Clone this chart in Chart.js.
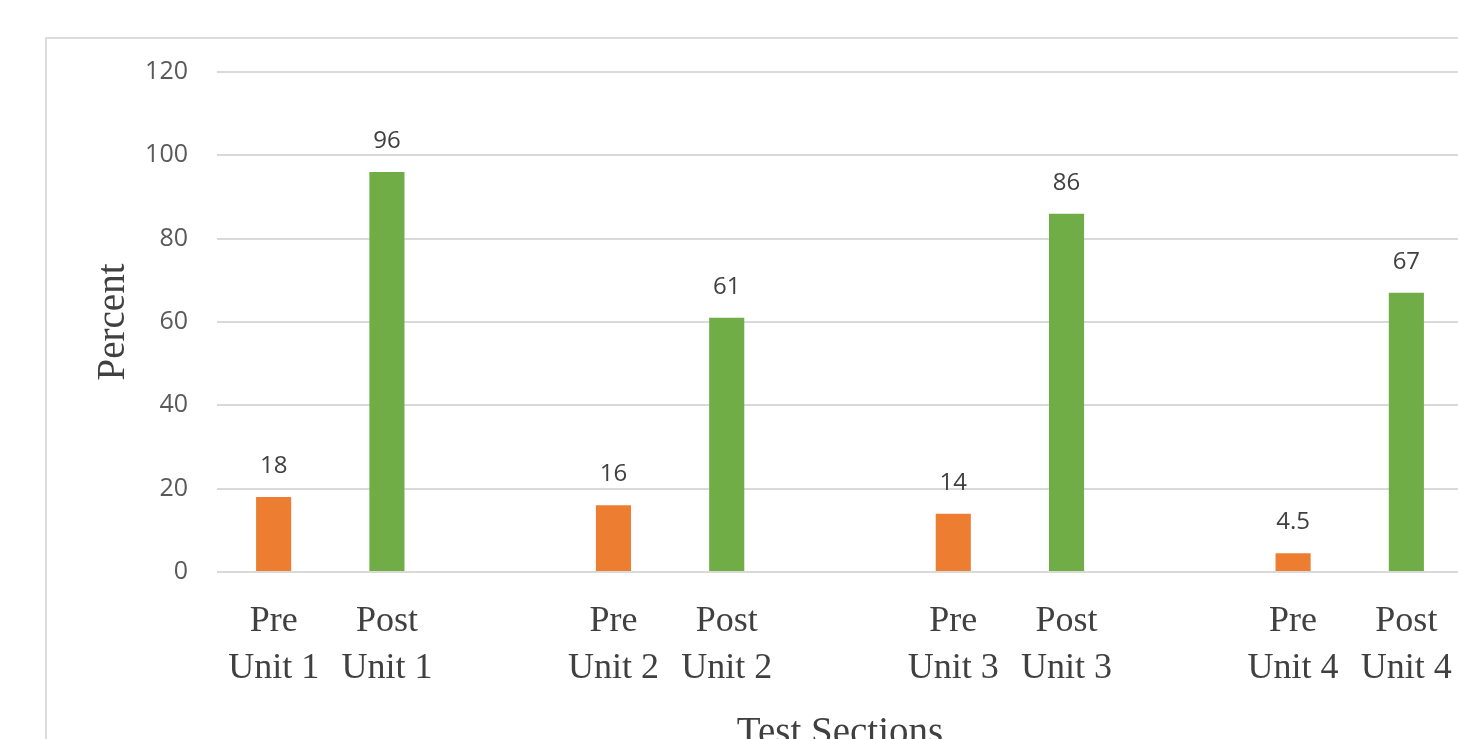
<!DOCTYPE html>
<html>
<head>
<meta charset="utf-8">
<script src="https://cdn.jsdelivr.net/npm/chart.js@4.4.0/dist/chart.umd.min.js"></script>
<style>
  html, body { margin: 0; padding: 0; background: #fff; overflow: hidden; }
  body { width: 1458px; height: 739px; position: relative; }
  #frame {
    position: absolute; left: 45px; top: 37px;
    width: 1500px; height: 760px;
    border: 2px solid #dcdcdc; background: #fff;
  }
  #chart { display: block; }
</style>
</head>
<body>
<div id="frame"><canvas id="chart" width="1450" height="720"></canvas></div>
<script>
// Pre/post test percentages per unit. Empty labels are the spacer columns
// between the unit pairs (the original sheet leaves a blank row there).
const categories = [
  ['Pre', 'Unit 1'], ['Post', 'Unit 1'], '',
  ['Pre', 'Unit 2'], ['Post', 'Unit 2'], '',
  ['Pre', 'Unit 3'], ['Post', 'Unit 3'], '',
  ['Pre', 'Unit 4'], ['Post', 'Unit 4']
];
const scores = [18, 96, null, 16, 61, null, 14, 86, null, 4.5, 67];
const yTicks = [0, 20, 40, 60, 80, 100, 120];

const PRE_COLOR = '#ed7d31';
const POST_COLOR = '#70ad47';
const GRID_COLOR = '#d9d9d9';
const TICK_COLOR = '#595959';
const SERIF = "'Liberation Serif', 'Times New Roman', serif";
const SANS = "'Open Sans', 'Noto Sans', sans-serif";

const barColors = categories.map(function (c) {
  return Array.isArray(c) && c[0] === 'Pre' ? PRE_COLOR : POST_COLOR;
});

// value labels above each bar (no datalabels plugin available offline)
const valueLabels = {
  id: 'valueLabels',
  afterDatasetsDraw(chart) {
    const ctx = chart.ctx;
    const meta = chart.getDatasetMeta(0);
    ctx.save();
    ctx.font = '24px ' + SANS;
    ctx.fillStyle = '#404040';
    ctx.textAlign = 'center';
    ctx.textBaseline = 'alphabetic';
    meta.data.forEach(function (bar, i) {
      const v = scores[i];
      if (v === null) return;
      ctx.fillText(String(v), bar.x, bar.y - 24);
    });
    ctx.restore();
  }
};

new Chart(document.getElementById('chart'), {
  type: 'bar',
  data: {
    labels: categories,
    datasets: [{
      label: 'Percent',
      data: scores,
      backgroundColor: barColors,
      borderWidth: 0,
      categoryPercentage: 1,
      barPercentage: 0.31
    }]
  },
  options: {
    responsive: false,
    animation: false,
    layout: { padding: { left: 0, right: 34, top: 33, bottom: 0 } },
    plugins: { legend: { display: false }, tooltip: { enabled: false } },
    scales: {
      x: {
        grid: { display: false, drawTicks: false },
        border: { display: false },
        ticks: {
          color: '#404040',
          padding: 26,
          maxRotation: 0,
          autoSkip: false,
          font: { family: SERIF, size: 36, lineHeight: 1.3 }
        },
        title: {
          display: true,
          text: 'Test Sections',
          color: '#404040',
          font: { family: SERIF, size: 39, lineHeight: 1.2 },
          padding: { top: 0, bottom: 2 }
        },
        afterFit(scale) { scale.height = 187; }
      },
      y: {
        min: 0,
        max: 120,
        afterBuildTicks(scale) {
          scale.ticks = yTicks.map(function (v) { return { value: v }; });
        },
        // invisible tick marks give the label gap without the vertical
        // padding that ticks.padding would add above the plot
        grid: { color: GRID_COLOR, lineWidth: 2, drawTicks: true, tickLength: 29, tickColor: 'rgba(0,0,0,0)' },
        border: { display: false },
        ticks: {
          color: TICK_COLOR,
          padding: 0,
          font: { family: SANS, size: 25 }
        },
        title: {
          display: true,
          text: 'Percent',
          color: '#404040',
          font: { family: SERIF, size: 39, lineHeight: 1.2 },
          padding: { top: 43, bottom: 0 }
        },
        afterFit(scale) { scale.width = 170; }
      }
    }
  },
  plugins: [valueLabels]
});
</script>
</body>
</html>
